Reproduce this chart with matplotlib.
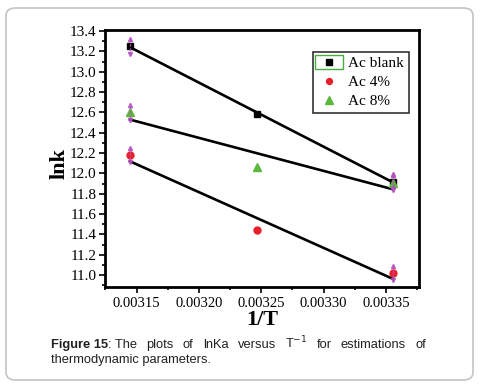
import numpy as np
import matplotlib
matplotlib.use("Agg")
import matplotlib.pyplot as plt
from matplotlib.patches import FancyBboxPatch, Rectangle
from matplotlib.ticker import MultipleLocator, FormatStrFormatter

# 1/T for T = 318, 308, 298 K
inv_T = [1 / 318.0, 1 / 308.0, 1 / 298.0]
series_names = ["Ac blank", "Ac 4%", "Ac 8%"]
lnk_blank = [13.25, 12.58, 11.92]
lnk_4 = [12.18, 11.44, 11.02]
lnk_8 = [12.60, 12.06, 11.91]
err_half = 0.09

caption_line1 = ["Figure 15", ": The", "plots", "of", "lnKa", "versus", "T$^{-1}$",
                 "for", "estimations", "of"]
caption_line2 = "thermodynamic parameters."

SERIF = "Liberation Serif"
SANS = "Liberation Sans"

fig = plt.figure(figsize=(4.8, 3.86), dpi=100)
fig.patch.set_facecolor("white")

# rounded frame round the whole figure
frame = FancyBboxPatch((6 / 480, 6 / 386), 467 / 480, 372 / 386,
                       boxstyle="round,pad=0,rounding_size=0.02",
                       transform=fig.transFigure, facecolor="none",
                       edgecolor="#c4c4c4", linewidth=1.2)
fig.patches.append(frame)

ax = fig.add_axes([105 / 480, 1 - 287 / 386, 314 / 480, 257 / 386])

x = np.array(inv_T)
styles = [
    (lnk_blank, "s", "black", 5),
    (lnk_4, "o", "#e8202a", 5),
    (lnk_8, "^", "#5cb83c", 6),
]
handles = []
for (vals, mk, col, ms), name in zip(styles, series_names):
    vals = np.array(vals)
    slope, icpt = np.polyfit(x, vals, 1)
    xl = np.array([x[0], x[-1]])
    ax.plot(xl, slope * xl + icpt, color="black", linewidth=1.9, zorder=2)
    h, = ax.plot(x, vals, linestyle="none", marker=mk, color=col,
                 markersize=ms, zorder=3, label=name)
    handles.append(h)
    # magenta error marks at the end points
    for xe, ye in [(x[0], vals[0]), (x[-1], vals[-1])]:
        ax.plot([xe, xe], [ye - err_half, ye + err_half], color="#b452c0",
                linestyle=(0, (2, 1.2)), linewidth=1.0, zorder=4, alpha=0.85)
        ax.plot([xe], [ye + err_half * 0.8], marker="^", color="#b452c0",
                markersize=3, zorder=4, alpha=0.85)
        ax.plot([xe], [ye - err_half * 0.8], marker="v", color="#b452c0",
                markersize=3, zorder=4, alpha=0.85)

ax.set_xlim(0.0031246, 0.0033765)
ax.set_ylim(10.883, 13.41)
ax.xaxis.set_major_locator(MultipleLocator(0.00005))
ax.xaxis.set_minor_locator(MultipleLocator(0.000025))
ax.xaxis.set_major_formatter(FormatStrFormatter("%.5f"))
ax.yaxis.set_major_locator(MultipleLocator(0.2))
ax.yaxis.set_minor_locator(MultipleLocator(0.1))
ax.yaxis.set_major_formatter(FormatStrFormatter("%.1f"))

for sp in ax.spines.values():
    sp.set_linewidth(2.0)
ax.tick_params(which="both", direction="out", width=1.2, top=False, right=False)
ax.tick_params(which="major", length=4)
ax.tick_params(which="minor", length=2.5)
for lbl in ax.get_xticklabels():
    lbl.set_fontfamily(SERIF)
    lbl.set_fontsize(10.5)
for lbl in ax.get_yticklabels():
    lbl.set_fontfamily(SERIF)
    lbl.set_fontsize(11)
ax.tick_params(axis="x", pad=3)
ax.tick_params(axis="y", pad=2)

ax.set_xlabel("1/T", fontfamily=SERIF, fontsize=16, fontweight="bold", labelpad=0)
ax.set_ylabel("lnk", fontfamily=SERIF, fontsize=16, fontweight="bold")
ax.yaxis.set_label_coords(-0.113, 0.48)

leg = ax.legend(handles=handles, loc="upper right", bbox_to_anchor=(0.968, 0.914),
                frameon=True, fancybox=False, edgecolor="black",
                prop={"family": SERIF, "size": 11}, handlelength=1.6,
                handletextpad=0.45, borderpad=0.3, labelspacing=0.35,
                borderaxespad=0, markerscale=0.85)
leg.get_frame().set_linewidth(1.2)

fig.canvas.draw()
rend = fig.canvas.get_renderer()

# green box round the first legend key, as in the original
hb = leg.legend_handles[0].get_window_extent(rend)
cx, cy = (hb.x0 + hb.x1) / 2, (hb.y0 + hb.y1) / 2
fig.patches.append(Rectangle(((cx - 14) / 480, (cy - 7) / 386), 28 / 480, 14 / 386,
                             transform=fig.transFigure, facecolor="none",
                             edgecolor="#4caa40", linewidth=1.0, zorder=6))

# justified caption
x0, x1 = 51 / 480, 426 / 480
y1 = 1 - 348 / 386
texts = []
widths = []
for i, w in enumerate(caption_line1):
    t = fig.text(0, y1, w, fontfamily=SANS, fontsize=9.3,
                 fontweight="bold" if i == 0 else "normal",
                 color="#222222", va="baseline")
    texts.append(t)
    widths.append(t.get_window_extent(rend).width / 480)
# "Figure 15" and ": The" are glued, so one gap fewer
n_gaps = len(texts) - 2
gap = (x1 - x0 - sum(widths)) / n_gaps
cur = x0
for i, (t, wd) in enumerate(zip(texts, widths)):
    t.set_x(cur)
    cur += wd + (0 if i == 0 else gap)
fig.text(x0, 1 - 363 / 386, caption_line2, fontfamily=SANS, fontsize=9.3,
         color="#222222", va="baseline")

fig.savefig("out.png", dpi=100)
